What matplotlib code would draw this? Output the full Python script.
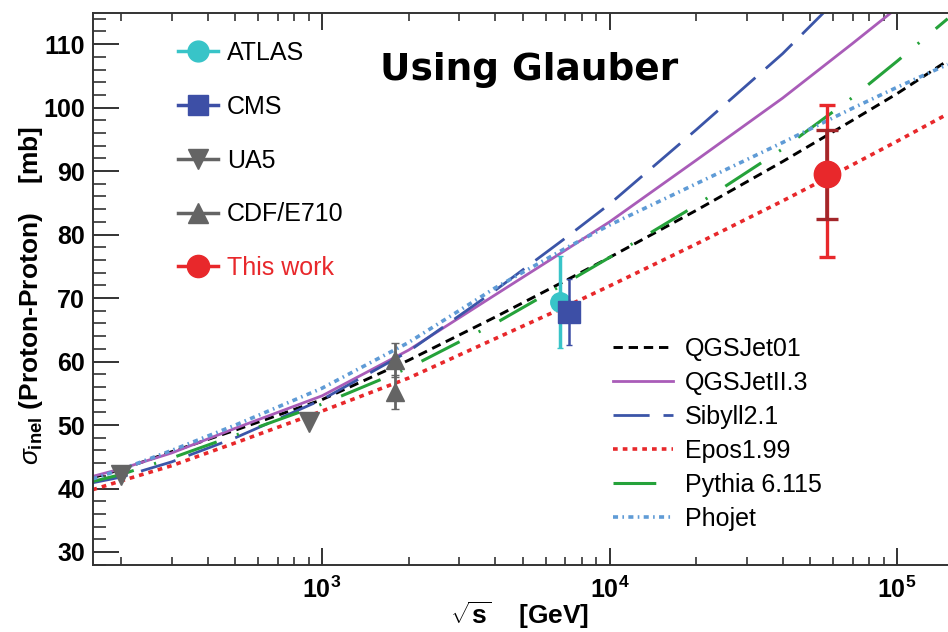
import numpy as np
import matplotlib
matplotlib.use("Agg")
import matplotlib.pyplot as plt
from matplotlib.lines import Line2D
from matplotlib.ticker import LogLocator, MultipleLocator, FixedLocator, FixedFormatter, NullFormatter

plt.rcParams['font.family'] = ['Liberation Sans', 'DejaVu Sans']
plt.rcParams['mathtext.fontset'] = 'custom'
plt.rcParams['mathtext.rm'] = 'Liberation Sans'
plt.rcParams['mathtext.it'] = 'Liberation Sans:italic'
plt.rcParams['mathtext.bf'] = 'Liberation Sans:bold'

# model curves, sqrt(s) in GeV vs sigma_inel in mb
energy = [159, 200, 300, 500, 1000, 2000, 4000, 7000, 1e4, 2e4, 4e4, 7e4, 1e5, 1.5e5]
qgsjet01 = [41.7, 43.0, 45.8, 49.2, 54.0, 60.2, 67.0, 72.7, 76.4, 83.8, 91.5, 98.0, 102.2, 107.4]
qgsjet2 = [41.9, 43.1, 45.6, 49.5, 54.6, 61.8, 70.5, 77.5, 82.0, 91.7, 101.5, 110.1, 115.7]
sibyll = [40.9, 41.8, 44.2, 48.0, 54.0, 61.6, 71.2, 79.4, 84.8, 96.5, 108.5, 119.5]
epos = [39.8, 41.2, 43.6, 47.2, 52.2, 57.4, 63.6, 68.6, 71.9, 78.5, 85.3, 91.0, 94.7, 99.0]
pythia = [41.1, 42.2, 44.8, 48.4, 53.3, 59.0, 66.0, 72.3, 76.4, 84.6, 93.5, 101.6, 107.3, 114.0]
phojet = [41.5, 43.0, 46.0, 50.0, 55.8, 63.0, 71.6, 77.8, 81.5, 88.0, 94.5, 99.9, 103.2, 106.8]

# measurements
atlas_e, atlas_s, atlas_err = [6700], [69.4], [7.3]
cms_e, cms_s, cms_err = [7200], [67.8], [5.2]
ua5_e, ua5_s = [200, 900], [42.1, 50.4]
cdf_e, cdf_s, cdf_err = [1800, 1800], [60.2, 55.2], [2.7, 2.7]
work_e, work_s = [57000], [89.5]
work_stat = [7.0]
work_syst_lo, work_syst_hi = [13.0], [10.9]

c_atlas = '#38c4c8'
c_cms = '#3d4fa6'
c_gray = '#646464'
c_red = '#e8282b'
c_darkred = '#a3262a'

fig = plt.figure(figsize=(9.48, 6.32), dpi=100)
ax = fig.add_axes([0.0976, 0.106, 0.9024, 0.8734])
ax.set_xscale('log')
ax.set_xlim(159.1, 150400)
ax.set_ylim(27.95, 114.9)

l1, = ax.plot(energy, qgsjet01, color='black', lw=2.1, dashes=(3.2, 2.0), label='QGSJet01')
l2, = ax.plot(energy[:len(qgsjet2)], qgsjet2, color='#a95cb8', lw=2.0, label='QGSJetII.3')
l3, = ax.plot(energy[:len(sibyll)], sibyll, color='#3b55a8', lw=2.0, dashes=(13, 5), label='Sibyll2.1')
l4, = ax.plot(energy, epos, color=c_red, lw=2.6, dashes=(1.3, 1.4), label='Epos1.99')
l5, = ax.plot(energy, pythia, color='#25a23a', lw=2.2, dashes=(14, 7, 0.7, 7), label='Pythia 6.115')
l6, = ax.plot(energy, phojet, color='#5f9bd6', lw=2.6, dashes=(1.4, 1.2, 0.45, 1.2), label='Phojet')

# data points
ax.errorbar(ua5_e, ua5_s, fmt='v', color=c_gray, ms=14, zorder=5)
ax.errorbar(cdf_e, cdf_s, yerr=cdf_err, fmt='^', color=c_gray, ms=13, lw=2, capsize=3, zorder=5)
ax.errorbar(atlas_e, atlas_s, yerr=atlas_err, fmt='o', color=c_atlas, ms=14, lw=2.5, capsize=2, zorder=5)
ax.errorbar(cms_e, cms_s, yerr=cms_err, fmt='s', color=c_cms, ms=16, lw=1.8, capsize=2, zorder=6)
ax.errorbar(work_e, work_s, yerr=[work_syst_lo, work_syst_hi], fmt='none', ecolor=c_red,
            lw=2.4, capsize=5.5, capthick=2.4, zorder=5)
ax.errorbar(work_e, work_s, yerr=work_stat, fmt='none', ecolor=c_darkred,
            lw=2.6, capsize=8, capthick=2.4, zorder=6)
ax.plot(work_e, work_s, 'o', color=c_red, ms=19, zorder=7)

# axes styling
for side in ['left', 'bottom', 'top']:
    ax.spines[side].set_linewidth(1.4)
    ax.spines[side].set_color('#333333')
ax.spines['right'].set_visible(False)

ax.xaxis.set_major_locator(FixedLocator([1e3, 1e4, 1e5]))
ax.xaxis.set_major_formatter(FixedFormatter([r'$\mathbf{10^{3}}$', r'$\mathbf{10^{4}}$', r'$\mathbf{10^{5}}$']))
ax.xaxis.set_minor_locator(LogLocator(base=10, subs=np.arange(2, 10)))
ax.xaxis.set_minor_formatter(NullFormatter())
ax.yaxis.set_major_locator(MultipleLocator(10))
ax.yaxis.set_minor_locator(MultipleLocator(2))

ax.tick_params(which='both', direction='in', top=True, right=False, color='#333333')
ax.tick_params(axis='x', which='major', length=12, width=1.4, pad=8, labelsize=18)
ax.tick_params(axis='x', which='minor', length=6, width=1.2)
ax.tick_params(axis='y', which='major', length=18.5, width=1.4, pad=5.5, labelsize=18)
ax.tick_params(axis='y', which='minor', length=9, width=1.2)
for lab in ax.get_yticklabels():
    lab.set_fontweight('bold')

ax.set_ylabel(r'$\sigma_{\mathbf{inel}}$ (Proton-Proton)    [mb]', fontsize=19, fontweight='bold')
ax.yaxis.set_label_coords(-0.056, 0.489)
ax.set_xlabel(r'$\sqrt{\mathbf{s}}$    [GeV]', fontsize=19, fontweight='bold')
ax.xaxis.set_label_coords(0.499, -0.063)

# legends
data_handles = [
    Line2D([], [], color=c_atlas, marker='o', ms=15, lw=2.5),
    Line2D([], [], color=c_cms, marker='s', ms=15, lw=2.5),
    Line2D([], [], color=c_gray, marker='v', ms=15, lw=2.5),
    Line2D([], [], color=c_gray, marker='^', ms=15, lw=2.5),
    Line2D([], [], color=c_red, marker='o', ms=16, lw=2.5),
]
data_labels = ['ATLAS', 'CMS', 'UA5', 'CDF/E710', 'This work']
leg1 = ax.legend(data_handles, data_labels, loc='upper left', bbox_to_anchor=(0.1, 0.949),
                 frameon=False, fontsize=18, handlelength=1.6, handletextpad=0.35,
                 labelspacing=1.19, borderpad=0, borderaxespad=0,
                 labelcolor=['black', 'black', 'black', 'black', c_red])
ax.add_artist(leg1)
ax.legend(handles=[l1, l2, l3, l4, l5, l6], loc='upper left', bbox_to_anchor=(0.608, 0.413),
          frameon=False, fontsize=18, handlelength=2.4, handletextpad=0.5,
          labelspacing=0.4, borderpad=0, borderaxespad=0)

fig.text(380 / 948, 1 - 80 / 632, 'Using Glauber', family='DejaVu Sans', fontweight='bold',
         fontsize=27, ha='left', va='baseline')

fig.savefig('out.png', dpi=100)
